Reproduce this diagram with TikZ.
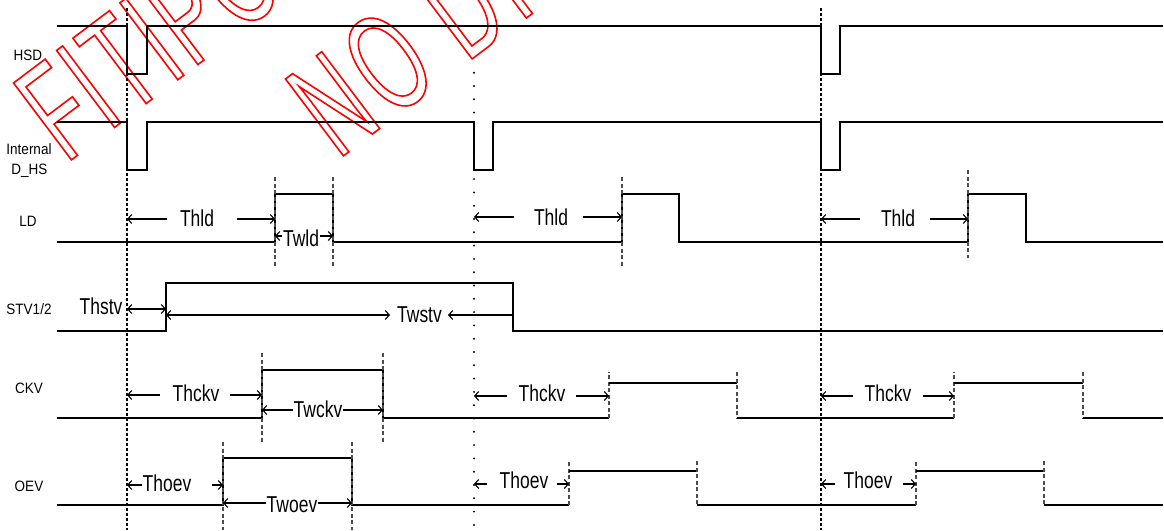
\documentclass[tikz,border=0pt]{standalone}
\usepackage{fontspec}
\usetikzlibrary{arrows.meta}
\newfontfamily\lblfont[FakeStretch=0.9]{Liberation Sans}
\newfontfamily\tmfont[FakeStretch=0.76]{Liberation Sans}
\newfontfamily\wmfonta[FakeStretch=0.58,LetterSpace=2.5]{Liberation Sans}
\newfontfamily\wmfontb[FakeStretch=0.58,LetterSpace=6]{Liberation Sans}
\newcommand\outlinetext[1]{\special{pdf:literal direct 1 Tr 1.6 w}#1\special{pdf:literal direct 0 Tr}}
\tikzset{
  wave/.style={line width=1.2pt, black},
  longdash/.style={line width=1.1pt, black, dash pattern=on 3pt off 2pt},
  dotline/.style={line width=2.2pt, black, line cap=round, dash pattern=on 0pt off 13.3pt},
  edgedash/.style={line width=1.1pt, black!70, dash pattern=on 4pt off 2.5pt},
  dim/.style={line width=1.1pt, black, arrows={-Straight Barb[length=4pt,width=9pt]}},
  dimboth/.style={line width=1.1pt, black, arrows={Straight Barb[length=4pt,width=9pt]-Straight Barb[length=4pt,width=9pt]}},
  siglabel/.style={font=\lblfont\fontsize{15}{15}\selectfont, anchor=base, inner sep=0pt},
  tlabel/.style={font=\tmfont\fontsize{23}{23}\selectfont, anchor=base, inner sep=0pt},
  tlabelw/.style={tlabel, fill=white, inner xsep=1pt},
  wmark/.style={text=red, anchor=base west, inner sep=0pt, rotate=37}
}
\begin{document}
\begin{tikzpicture}[x=1pt,y=-1pt]
\useasboundingbox (0,0) rectangle (1164,530);
\begin{scope}
\clip (0,0) rectangle (1164,530);
\node[wmark, font=\wmfonta\fontsize{140}{140}\selectfont] (wm1) at (66,164) {\outlinetext{FITIPO}};
\node[wmark, font=\wmfontb\fontsize{140}{140}\selectfont] (wm2) at (338,160) {\outlinetext{NO DI}};
\end{scope}

% signal labels
\node[siglabel] (lhsd) at (28,60) {HSD};
\node[siglabel] (lint) at (29,154.5) {Internal};
\node[siglabel] (ldhs) at (29.5,174) {D\_HS};
\node[siglabel] (lld) at (28,226) {LD};
\node[siglabel] (lstv) at (29,314) {STV1/2};
\node[siglabel] (lckv) at (29,393) {CKV};
\node[siglabel] (loev) at (29,491) {OEV};

% reference vertical lines
\coordinate (r1t) at (127,8); \coordinate (r1b) at (127,530);
\coordinate (r2t) at (474,72.7); \coordinate (r2b) at (474,530);
\coordinate (r3t) at (821,8); \coordinate (r3b) at (821,530);
\draw[longdash] (r1t) -- (r1b);
\draw[dotline] (r2t) -- (r2b);
\draw[longdash] (r3t) -- (r3b);

% HSD
\draw[wave] (57,26) -- (127,26) -- (127,74) -- (147,74) -- (147,26) -- (821,26) -- (821,74) -- (840,74) -- (840,26) -- (1163,26);
% Internal D_HS
\draw[wave] (57,122) -- (127,122) -- (127,170) -- (147,170) -- (147,122) -- (474,122) -- (474,170) -- (493,170) -- (493,122) -- (821,122) -- (821,170) -- (840,170) -- (840,122) -- (1163,122);
% LD
\draw[wave] (57,242) -- (275,242) -- (275,194) -- (333,194) -- (333,242) -- (622,242) -- (622,194) -- (679,194) -- (679,242) -- (968,242) -- (968,194) -- (1026,194) -- (1026,242) -- (1163,242);
\draw[edgedash] (275,177) -- (275,267);
\draw[edgedash] (333,177) -- (333,267);
\draw[edgedash] (622,177) -- (622,267);
\draw[edgedash] (968,170) -- (968,258);
% STV
\draw[wave] (57,331) -- (166,331) -- (166,283) -- (513,283) -- (513,331) -- (1163,331);
% CKV
\draw[wave] (57,418) -- (262,418) -- (262,370) -- (383,370) -- (383,418) -- (609,418);
\draw[edgedash] (262,353) -- (262,442);
\draw[edgedash] (383,353) -- (383,442);
\draw[edgedash] (609,418) -- (609,372);
\draw[wave] (609,383) -- (737,383);
\draw[edgedash] (737,372) -- (737,418);
\draw[wave] (737,418) -- (954,418);
\draw[edgedash] (954,418) -- (954,372);
\draw[wave] (954,383) -- (1083,383);
\draw[edgedash] (1083,372) -- (1083,418);
\draw[wave] (1083,418) -- (1163,418);
% OEV
\draw[wave] (57,505) -- (223,505) -- (223,458) -- (352,458) -- (352,505) -- (569,505);
\draw[edgedash] (223,442) -- (223,530);
\draw[edgedash] (352,442) -- (352,530);
\draw[edgedash] (569,505) -- (569,461);
\draw[wave] (569,471) -- (697,471);
\draw[edgedash] (697,461) -- (697,505);
\draw[wave] (697,505) -- (916,505);
\draw[edgedash] (916,505) -- (916,461);
\draw[wave] (916,471) -- (1044,471);
\draw[edgedash] (1044,461) -- (1044,505);
\draw[wave] (1044,505) -- (1163,505);

% Thld
\draw[dim] (167,219) -- (127,219);
\draw[dim] (237,219) -- (275,219);
\node[tlabel] (thld1) at (197,226) {Thld};
\draw[dim] (514,217) -- (474,217);
\draw[dim] (583,217) -- (622,217);
\node[tlabel] (thld2) at (551,225) {Thld};
\draw[dim] (860,219) -- (821,219);
\draw[dim] (930,219) -- (968,219);
\node[tlabel] (thld3) at (898,226) {Thld};
% Twld
\draw[dimboth] (275,236) -- (333,236);
\node[tlabelw] (twld) at (301,246) {Twld};
% Thstv / Twstv
\draw[dimboth] (127,309) -- (166,309);
\node[tlabel] (thstv) at (101,314) {Thstv};
\draw[dimboth] (166,315) -- (390,315);
\draw[dim] (513,315) -- (448,315);
\node[tlabel] (twstv) at (419.5,322) {Twstv};
% Thckv
\draw[dim] (160,395) -- (127,395);
\draw[dim] (230,395) -- (262,395);
\node[tlabel] (thckv1) at (196,401) {Thckv};
\draw[dim] (507,396) -- (474,396);
\draw[dim] (576,396) -- (609,396);
\node[tlabel] (thckv2) at (542,401) {Thckv};
\draw[dim] (853,396) -- (821,396);
\draw[dim] (923,396) -- (954,396);
\node[tlabel] (thckv3) at (888,401) {Thckv};
% Twckv
\draw[dimboth] (262,410) -- (383,410);
\node[tlabelw] (twckv) at (318,417) {Twckv};
% Thoev
\draw[dim] (142,485) -- (127,485);
\draw[dim] (212,485) -- (223,485);
\node[tlabel] (thoev1) at (167,491) {Thoev};
\draw[dim] (487,484) -- (474,484);
\draw[dim] (557,484) -- (569,484);
\node[tlabel] (thoev2) at (524,488) {Thoev};
\draw[dim] (835,484) -- (821,484);
\draw[dim] (903,484) -- (916,484);
\node[tlabel] (thoev3) at (868,488) {Thoev};
% Twoev
\draw[dimboth] (223,503) -- (352,503);
\node[tlabelw] (twoev) at (292,512) {Twoev};
\end{tikzpicture}
\end{document}
